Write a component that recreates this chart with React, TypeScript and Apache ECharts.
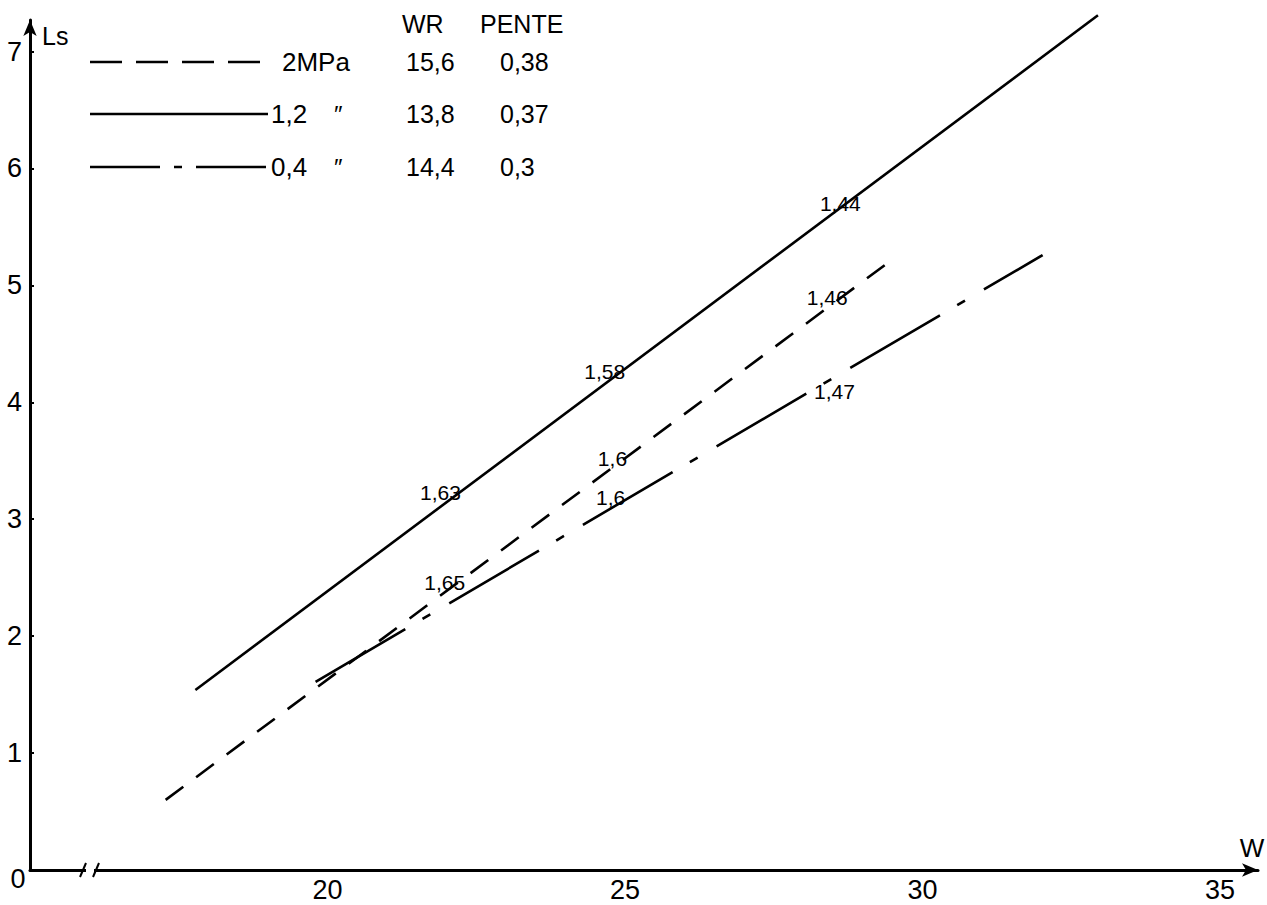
import React, { useEffect, useRef } from "react";
import * as echarts from "echarts";

// ---- data ----
const xMin = 15;
const xMax = 35.64;
const yMin = 0;
const yMax = 7.27;

// 1,2 MPa (solid)
const solidW = [17.78, 32.95];
const solidLs = [1.54, 7.31];
// 2 MPa (dashed)
const dashedW = [17.28, 29.41];
const dashedLs = [0.6, 5.19];
// 0,4 MPa (dash-dot)
const dashDotW = [19.8, 32.02];
const dashDotLs = [1.61, 5.26];

// point annotations along the lines
const solidLabelText = ["1,63", "1,58", "1,44"];
const solidLabelW = [21.9, 24.66, 28.62];
const solidLabelLs = [3.23, 4.26, 5.7];

const dashedLabelText = ["1,65", "1,6", "1,46"];
const dashedLabelW = [21.97, 24.79, 28.4];
const dashedLabelLs = [2.46, 3.52, 4.9];

const dashDotLabelText = ["1,6", "1,47"];
const dashDotLabelW = [24.76, 28.52];
const dashDotLabelLs = [3.19, 4.09];

// legend table
const legendPressure = ["2MPa", "1,2", "0,4"];
const legendDitto = ["", "\u2033", "\u2033"];
const legendWR = ["15,6", "13,8", "14,4"];
const legendPente = ["0,38", "0,37", "0,3"];
const legendHeader = ["WR", "PENTE"];

const FONT = "'Liberation Sans', 'DejaVu Sans', sans-serif";
const INK = "#000";

function zip(xs: number[], ys: number[]) {
  return xs.map((x, i) => [x, ys[i]]);
}
function labelData(texts: string[], xs: number[], ys: number[]) {
  return texts.map((t, i) => ({ name: t, value: [xs[i], ys[i]] }));
}

export default function App() {
  const ref = useRef<HTMLDivElement>(null);

  useEffect(() => {
    if (!ref.current) return;
    const chart = echarts.init(ref.current, undefined, { renderer: "svg" });

    const lineBase = {
      type: "line",
      showSymbol: false,
      symbol: "none",
      clip: false,
      silent: true,
    };
    const labelSeries = (data: any[]) => ({
      type: "scatter",
      symbolSize: 0,
      clip: false,
      silent: true,
      itemStyle: { opacity: 1, color: INK },
      data,
      label: {
        show: true,
        position: "inside",
        formatter: (p: any) => p.name,
        color: INK,
        opacity: 1,
        fontFamily: FONT,
        fontSize: 21,
      },
    });

    const rowY = [62, 114, 167];
    const graphics: any[] = [];
    const txt = (text: string, x: number, y: number, size: number, align = "left") => ({
      type: "text",
      z: 100,
      style: {
        text,
        x,
        y,
        fill: INK,
        font: `${size}px ${FONT}`,
        textAlign: align,
        textVerticalAlign: "middle",
      },
    });
    const seg = (x1: number, y1: number, x2: number, y2: number, w = 2.5) => ({
      type: "line",
      z: 100,
      shape: { x1, y1, x2, y2 },
      style: { stroke: INK, lineWidth: w },
    });

    // axis texts
    graphics.push(txt("0", 18, 879, 27, "center"));
    graphics.push(txt("Ls", 42, 36, 25, "left"));
    graphics.push(txt("W", 1252, 848, 26, "center"));
    // axis break
    graphics.push({
      type: "rect",
      z: 99,
      shape: { x: 86, y: 865, width: 8, height: 10 },
      style: { fill: "#fff" },
    });
    graphics.push(seg(80, 877, 86, 863, 2));
    graphics.push(seg(93, 877, 99, 863, 2));

    // legend header
    graphics.push(txt(legendHeader[0], 402, 24, 25, "left"));
    graphics.push(txt(legendHeader[1], 480, 24, 25, "left"));
    // legend samples
    graphics.push({
      type: "line",
      z: 100,
      shape: { x1: 90, y1: rowY[0], x2: 262, y2: rowY[0] },
      style: { stroke: INK, lineWidth: 2.5, lineDash: [32, 14] },
    });
    graphics.push(seg(90, rowY[1], 268, rowY[1]));
    graphics.push({
      type: "line",
      z: 100,
      shape: { x1: 90, y1: rowY[2], x2: 270, y2: rowY[2] },
      style: { stroke: INK, lineWidth: 2.5, lineDash: [70, 14, 8, 14] },
    });
    for (let i = 0; i < 3; i++) {
      graphics.push(txt(legendPressure[i], i === 0 ? 282 : 271, rowY[i], 26, "left"));
      if (legendDitto[i]) graphics.push(txt(legendDitto[i], 334, rowY[i], 24, "left"));
      graphics.push(txt(legendWR[i], 406, rowY[i], 25, "left"));
      graphics.push(txt(legendPente[i], 500, rowY[i], 25, "left"));
    }

    const axisLine = {
      show: true,
      symbol: ["none", "arrow"],
      symbolSize: [10, 16],
      lineStyle: { color: INK, width: 3 },
    };

    chart.setOption({
      animation: false,
      backgroundColor: "#fff",
      grid: { left: 30, right: 9, top: 20, bottom: 35, containLabel: false },
      xAxis: {
        type: "value",
        min: xMin,
        max: xMax,
        interval: 5,
        axisLine,
        axisTick: { show: false },
        splitLine: { show: false },
        axisLabel: {
          color: INK,
          fontFamily: FONT,
          fontSize: 27,
          margin: 6,
          showMaxLabel: false,
          formatter: (v: number) => (v > xMin && Number.isInteger(v) ? String(v) : ""),
        },
      },
      yAxis: {
        type: "value",
        min: yMin,
        max: yMax,
        interval: 1,
        axisLine,
        axisTick: { show: true, inside: true, length: 4, lineStyle: { color: INK, width: 2 } },
        splitLine: { show: false },
        axisLabel: {
          color: INK,
          fontFamily: FONT,
          fontSize: 27,
          margin: 8,
          showMaxLabel: false,
          formatter: (v: number) => (v > 0 && Number.isInteger(v) ? String(v) : ""),
        },
      },
      series: [
        {
          ...lineBase,
          name: "1,2 MPa",
          data: zip(solidW, solidLs),
          lineStyle: { color: INK, width: 2.6, type: "solid" },
        },
        {
          ...lineBase,
          name: "2 MPa",
          data: zip(dashedW, dashedLs),
          lineStyle: { color: INK, width: 2.6, type: [22, 16] },
        },
        {
          ...lineBase,
          name: "0,4 MPa",
          data: zip(dashDotW, dashDotLs),
          lineStyle: { color: INK, width: 2.6, type: [104, 20, 9, 22] },
        },
        labelSeries(labelData(solidLabelText, solidLabelW, solidLabelLs)),
        labelSeries(labelData(dashedLabelText, dashedLabelW, dashedLabelLs)),
        labelSeries(labelData(dashDotLabelText, dashDotLabelW, dashDotLabelLs)),
      ],
      graphic: graphics,
    });

    return () => chart.dispose();
  }, []);

  return (
    <div
      ref={ref}
      style={{ position: "fixed", left: 0, top: 0, width: 1267, height: 905, background: "#fff" }}
    />
  );
}
